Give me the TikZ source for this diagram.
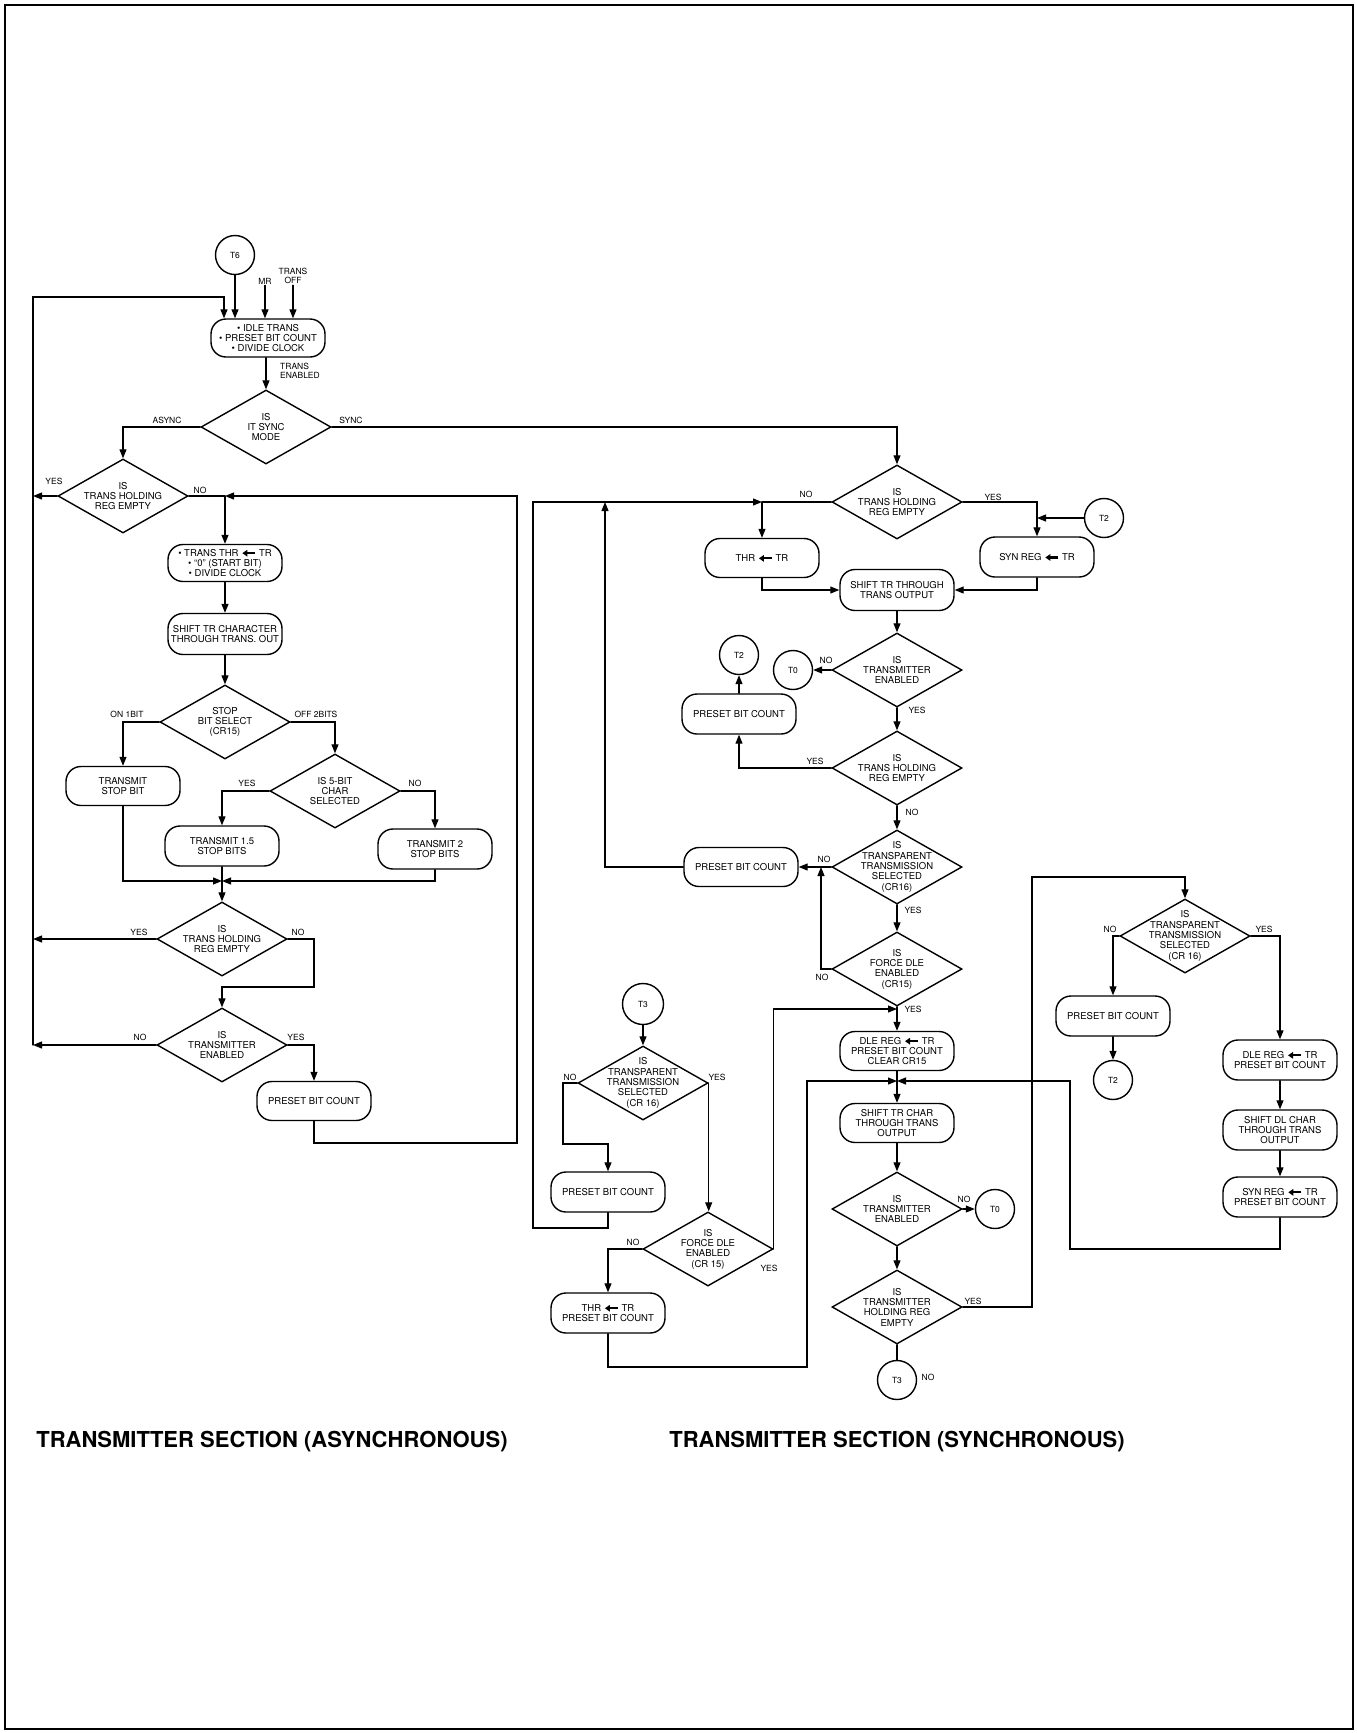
\documentclass[tikz,border=0pt]{standalone}
\usepackage{fontspec}
\setmainfont{TeX Gyre Heros}
\usetikzlibrary{shapes.geometric,arrows.meta}

\newcommand{\boxfont}{\fontsize{9.5}{10.3}\selectfont}
\newcommand{\tagfont}{\fontsize{8.5}{9.5}\selectfont}
\newcommand{\loadarrow}{\tikz[baseline=-0.6ex]\draw[line width=2.2pt,-{Triangle[length=5pt,width=6.5pt]}] (13pt,0pt) -- (0pt,0pt);}

\begin{document}
\begin{tikzpicture}
		[x=1pt,y=-1pt,line cap=round,
		%Styles
		process/.style={draw,line width=1.4pt,rounded corners=15pt,minimum width=114pt,minimum height=39pt,inner sep=0pt,align=center,font=\boxfont},
		decision/.style={diamond,draw,line width=1.4pt,minimum width=130pt,minimum height=74pt,inner sep=-16pt,align=center,font=\boxfont},
		connector/.style={circle,draw,line width=1.4pt,minimum size=39pt,inner sep=0pt,font=\tagfont},
		tag/.style={inner sep=1pt,font=\tagfont},
		flow/.style={line width=1.1pt,-{Triangle[length=9pt,width=7pt]}},
		link/.style={line width=1.1pt},
		heading/.style={inner sep=0pt,font=\fontsize{22}{24}\selectfont\bfseries}
		]
		\useasboundingbox (0,0) rectangle (1357,1733);
		\draw[line width=2pt] (5,5) rectangle (1353,1729);
		
		%Asynchronous section
		\node[connector] (t6) at (235,255) {T6};
		\node[tag] (mr) at (265,281) {MR};
		\node[tag,align=center] (transoff) at (293,276) {TRANS\\OFF};
		\node[process,minimum height=38pt] (idle) at (268,338) {\textbullet\ IDLE TRANS\\\textbullet\ PRESET BIT COUNT\\\textbullet\ DIVIDE CLOCK};
		\node[tag,align=left,anchor=west] (transen) at (279,371) {TRANS\\ENABLED};
		\node[decision] (sync) at (266,427) {IS\\IT SYNC\\MODE};
		\node[decision] (async1) at (123,496) {IS\\TRANS HOLDING\\REG EMPTY};
		\node[process,minimum height=37pt] (thr) at (225,563) {\textbullet\ TRANS THR \loadarrow\ TR\\\textbullet\ ``0'' (START BIT)\\\textbullet\ DIVIDE CLOCK};
		\node[process,minimum height=41pt] (shiftA) at (225,634) {SHIFT TR CHARACTER\\THROUGH TRANS. OUT};
		\node[decision] (stopsel) at (225,722) {STOP\\BIT SELECT\\(CR15)};
		\node[process] (stop1) at (123,786) {TRANSMIT\\STOP BIT};
		\node[decision] (fivebit) at (335,791) {IS 5-BIT\\CHAR\\SELECTED};
		\node[process,minimum height=40pt] (stop15) at (222,846) {TRANSMIT 1.5\\STOP BITS};
		\node[process,minimum height=40pt] (stop2) at (435,849) {TRANSMIT 2\\STOP BITS};
		\node[decision] (async2) at (222,939) {IS\\TRANS HOLDING\\REG EMPTY};
		\node[decision] (enable) at (222,1045) {IS\\TRANSMITTER\\ENABLED};
		\node[process] (presetA) at (314,1101) {PRESET BIT COUNT};
		
		\coordinate (ltop) at (33,297);
		\coordinate (lbot) at (33,1045);
		\coordinate (ajn) at (225,496);
		\coordinate (merge) at (222,881);
		\coordinate (a2no) at (314,987);
		\coordinate (aloop) at (517,1143);
		
		\node[tag] at (167,420) {ASYNC};
		\node[tag] at (351,420) {SYNC};
		\node[tag] at (54,481) {YES};
		\node[tag] at (200,490) {NO};
		\node[tag] at (127,714) {ON 1BIT};
		\node[tag] at (316,714) {OFF 2BITS};
		\node[tag] at (247,783) {YES};
		\node[tag] at (415,783) {NO};
		\node[tag] at (139,932) {YES};
		\node[tag] at (298,932) {NO};
		\node[tag] at (140,1037) {NO};
		\node[tag] at (296,1037) {YES};
		
		%Synchronous section
		\node[decision] (holdS) at (897,502) {IS\\TRANS HOLDING\\REG EMPTY};
		\node[process] (thrS) at (762,558) {THR \loadarrow\ TR};
		\node[process,minimum height=40pt] (synS) at (1037,557) {SYN REG \loadarrow\ TR};
		\node[connector] (t2a) at (1104,518) {T2};
		\node[process,minimum height=41pt] (shiftS) at (897,590) {SHIFT TR THROUGH\\TRANS OUTPUT};
		\node[decision] (enS) at (897,670) {IS\\TRANSMITTER\\ENABLED};
		\node[connector] (t0a) at (793,670) {T0};
		\node[decision] (holdS2) at (897,768) {IS\\TRANS HOLDING\\REG EMPTY};
		\node[process,minimum height=40pt] (presetS) at (739,714) {PRESET BIT COUNT};
		\node[connector] (t2b) at (739,655) {T2};
		\node[decision] (transS) at (897,867) {IS\\TRANSPARENT\\TRANSMISSION\\SELECTED\\(CR16)};
		\node[process] (presetS2) at (741,867) {PRESET BIT COUNT};
		\node[decision] (forceS) at (897,969) {IS\\FORCE DLE\\ENABLED\\(CR15)};
		\node[process] (dleS) at (897,1051) {DLE REG \loadarrow\ TR\\PRESET BIT COUNT\\CLEAR CR15};
		\node[process] (shiftS2) at (897,1123) {SHIFT TR CHAR\\THROUGH TRANS\\OUTPUT};
		\node[decision] (enS2) at (897,1209) {IS\\TRANSMITTER\\ENABLED};
		\node[connector] (t0b) at (995,1209) {T0};
		\node[decision] (holdS3) at (897,1307) {IS\\TRANSMITTER\\HOLDING REG\\EMPTY};
		\node[connector] (t3b) at (897,1380) {T3};
		
		\node[connector,minimum size=41pt] (t3a) at (643,1004) {T3};
		\node[decision] (transT) at (643,1083) {IS\\TRANSPARENT\\TRANSMISSION\\SELECTED\\(CR 16)};
		\node[process,minimum height=40pt] (presetT) at (608,1192) {PRESET BIT COUNT};
		\node[decision] (forceT) at (708,1249) {IS\\FORCE DLE\\ENABLED\\(CR 15)};
		\node[process,minimum height=40pt] (thrT) at (608,1313) {THR \loadarrow\ TR\\PRESET BIT COUNT};
		
		\node[decision] (transR) at (1185,936) {IS\\TRANSPARENT\\TRANSMISSION\\SELECTED\\(CR 16)};
		\node[process,minimum height=40pt] (presetR) at (1113,1016) {PRESET BIT COUNT};
		\node[connector] (t2c) at (1113,1080) {T2};
		\node[process,minimum height=40pt] (dleR) at (1280,1060) {DLE REG \loadarrow\ TR\\PRESET BIT COUNT};
		\node[process,minimum height=40pt] (shiftR) at (1280,1130) {SHIFT DL CHAR\\THROUGH TRANS\\OUTPUT};
		\node[process,minimum height=40pt] (synR) at (1280,1197) {SYN REG \loadarrow\ TR\\PRESET BIT COUNT};
		
		\coordinate (sjn) at (762,502);
		\coordinate (ptop) at (605,502);
		\coordinate (fjn) at (821,867);
		\coordinate (djn) at (897,1009);
		\coordinate (cjn) at (897,1081);
		\coordinate (rtop) at (1032,877);
		\coordinate (t3no) at (563,1144);
		\coordinate (lloop) at (533,1228);
		\coordinate (t3bot) at (807,1367);
		\coordinate (rloop) at (1070,1249);
		
		\node[tag] at (806,494) {NO};
		\node[tag] at (993,497) {YES};
		\node[tag] at (826,660) {NO};
		\node[tag] at (917,710) {YES};
		\node[tag] at (815,761) {YES};
		\node[tag] at (912,812) {NO};
		\node[tag] at (824,859) {NO};
		\node[tag] at (913,910) {YES};
		\node[tag] at (822,977) {NO};
		\node[tag] at (913,1009) {YES};
		\node[tag] at (964,1199) {NO};
		\node[tag] at (973,1301) {YES};
		\node[tag] at (928,1377) {NO};
		\node[tag] at (570,1077) {NO};
		\node[tag] at (717,1077) {YES};
		\node[tag] at (633,1242) {NO};
		\node[tag] at (769,1268) {YES};
		\node[tag] at (1110,929) {NO};
		\node[tag] at (1264,929) {YES};
		
		\node[heading] (asynctitle) at (272,1442) {TRANSMITTER SECTION (ASYNCHRONOUS)};
		\node[heading] (synctitle) at (897,1442) {TRANSMITTER SECTION (SYNCHRONOUS)};
		
		%Connectors
		\path[flow]
			(thr) edge (shiftA)
			(shiftA) edge (stopsel)
			(stop15) edge (async2)
			(shiftS) edge (enS)
			(enS) edge (holdS2)
				edge (t0a)
			(holdS2) edge (transS)
			(transS) edge (forceS)
				edge (presetS2)
			(presetS) edge (t2b)
			(shiftS2) edge (enS2)
			(enS2) edge (holdS3)
				edge (t0b)
			(t3a) edge (transT)
			(presetR) edge (t2c)
			(dleR) edge (shiftR)
			(shiftR) edge (synR);
		\draw[link] (holdS3) -- (t3b);
		
		\draw[flow] (lbot) -- (ltop) -| ([xshift=-44pt]idle.north);
		\draw[flow] (t6) -- (t6 |- idle.north);
		\draw[flow] (mr) -- (mr |- idle.north);
		\draw[flow] (transoff) -- (transoff |- idle.north);
		\draw[flow] (idle.south -| sync.north) -- (sync.north);
		\draw[flow] (sync.west) -| (async1.north);
		\draw[flow] (sync.east) -| (holdS.north);
		\draw[flow] (async1.west) -- (async1.west -| ltop);
		\draw[link] (async1.east) -- (ajn);
		\draw[flow] (ajn) -- (thr.north);
		\draw[flow] (stopsel.west) -| (stop1.north);
		\draw[flow] (stopsel.east) -| (fivebit.north);
		\draw[flow] (fivebit.west) -| (stop15.north);
		\draw[flow] (fivebit.east) -| (stop2.north);
		\draw[flow] (stop1.south) |- (merge);
		\draw[flow] (stop2.south) |- (merge);
		\draw[flow] (async2.west) -- (async2.west -| ltop);
		\draw[flow] (async2.east) -| (a2no) -| (enable.north);
		\draw[flow] (enable.west) -- (enable.west -| ltop);
		\draw[flow] (enable.east) -| (presetA.north);
		\draw[flow] (presetA.south) |- (aloop) |- (ajn);
		
		\draw[link] (holdS.west) -- (sjn);
		\draw[flow] (sjn) -- (thrS.north);
		\draw[flow] (thrS.south) |- (shiftS.west);
		\draw[flow] (holdS.east) -| (synS.north);
		\draw[flow] (t2a.west) -- (t2a.west -| synS.north);
		\draw[flow] (synS.south) |- (shiftS.east);
		\draw[flow] (holdS2.west) -| (presetS.south);
		\draw[flow] (presetS2.west) -| (ptop);
		\draw[flow] (forceS.west) -| (fjn);
		\draw[link] (forceS.south) -- (djn);
		\draw[flow] (djn) -- (dleS.north);
		\draw[link] (dleS.south) -- (cjn);
		\draw[flow] (cjn) -- (shiftS2.north);
		\draw[flow] (holdS3.east) -| (rtop) -| (transR.north);
		
		\draw[flow] (transT.west) -| (t3no) -| (presetT.north);
		\draw[flow] (presetT.south) |- (lloop) |- (sjn);
		\draw[flow] (transT.east) -- (transT.east |- forceT.north);
		\draw[flow] (forceT.west) -| (thrT.north);
		\draw[flow] (forceT.east) |- (djn);
		\draw[flow] (thrT.south) |- (t3bot) |- (cjn);
		
		\draw[flow] (transR.west) -| (presetR.north);
		\draw[flow] (transR.east) -| (dleR.north);
		\draw[flow] (synR.south) |- (rloop) |- (cjn);
	\end{tikzpicture}
\end{document}
